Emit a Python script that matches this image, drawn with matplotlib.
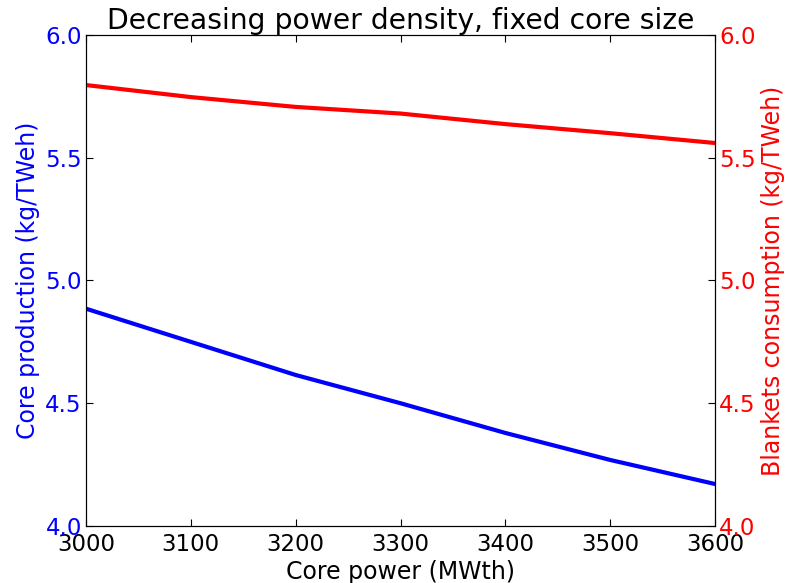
import numpy as np
import matplotlib.pyplot as plt

power = [3000, 3100, 3200, 3300, 3400, 3500, 3600]
core_prod = [4.885, 4.75, 4.615, 4.50, 4.379, 4.269, 4.171]
blanket_cons = [5.796, 5.747, 5.707, 5.68, 5.637, 5.60, 5.56]

plt.rcParams['xtick.direction'] = 'in'
plt.rcParams['ytick.direction'] = 'in'
plt.rcParams['xtick.top'] = True

fig = plt.figure(figsize=(7.85, 5.83), dpi=100)
ax = fig.add_axes([0.1096, 0.0978, 0.8012, 0.8422])
ax2 = ax.twinx()

ax.plot(power, core_prod, color='blue', lw=3)
ax2.plot(power, blanket_cons, color='red', lw=3)

ax.set_xlim(3000, 3600)
ax.set_ylim(4.0, 6.0)
ax2.set_ylim(4.0, 6.0)
ax.set_yticks([4.0, 4.5, 5.0, 5.5, 6.0])
ax2.set_yticks([4.0, 4.5, 5.0, 5.5, 6.0])
ax.set_xticks(power)

ax.tick_params(axis='x', labelsize=16.5, pad=5, length=5)
ax.tick_params(axis='y', labelsize=16.5, labelcolor='blue', pad=3, length=5)
ax2.tick_params(axis='y', labelsize=16.5, labelcolor='red', pad=3, length=5)

ax.set_xlabel('Core power (MWth)', fontsize=17, labelpad=3)
ax.set_ylabel('Core production (kg/TWeh)', fontsize=17, color='blue', labelpad=4)
ax2.set_ylabel('Blankets consumption (kg/TWeh)', fontsize=17, color='red', labelpad=4)
ax.set_title('Decreasing power density, fixed core size', fontsize=20.3, pad=3)

fig.savefig('out.png', dpi=100)
